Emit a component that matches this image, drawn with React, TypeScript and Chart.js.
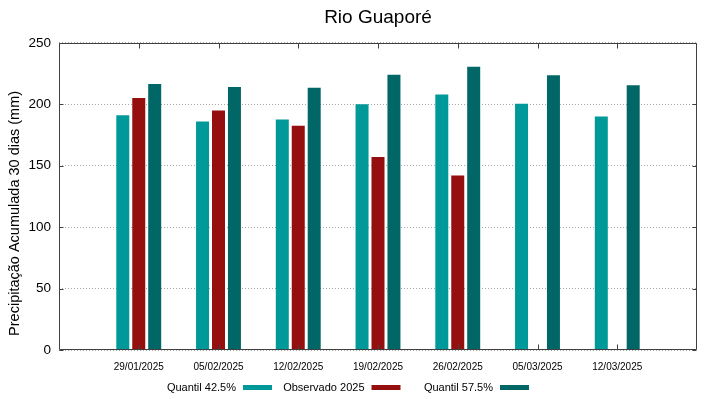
import React, { useEffect, useRef } from 'react';
import { Chart, registerables } from 'chart.js';

Chart.register(...registerables);

const TITLE = 'Rio Guaporé';
const Y_TITLE = 'Precipitação Acumulada 30 dias (mm)';
const DATES = ['29/01/2025', '05/02/2025', '12/02/2025', '19/02/2025', '26/02/2025', '05/03/2025', '12/03/2025'];
const SERIES_NAMES = ['Quantil 42.5%', 'Observado 2025', 'Quantil 57.5%'];
const Q425 = [191, 186, 187.5, 200, 208, 200.5, 190];
const OBS: (number | null)[] = [205, 195, 182.5, 157, 142, null, null];
const Q575 = [216.5, 214, 213.5, 224, 230.5, 223.5, 215.5];
const Y_MIN = 0;
const Y_MAX = 250;
const Y_STEP = 50;

const COLORS = ['#009999', '#960f0f', '#006766'];
const FRAME = '#404040';
const SANS = '"Liberation Sans", Arial, sans-serif';

const pad = (arr: (number | null)[]) => [null, ...arr, null];

const framePlugin = {
  id: 'frame',
  afterDatasetsDraw(chart: any) {
    const { ctx, chartArea, scales } = chart;
    const { left, right, top, bottom } = chartArea;
    const x = scales.x;
    const y = scales.y;
    ctx.save();
    ctx.strokeStyle = FRAME;
    ctx.lineWidth = 1;
    const l = Math.round(left) + 0.5;
    const r = Math.round(right) - 0.5;
    const t = Math.round(top) + 0.5;
    const b = Math.round(bottom) - 0.5;
    ctx.beginPath();
    ctx.rect(l, t, r - l, b - t);
    for (let i = 1; i <= DATES.length; i++) {
      const px = Math.round(x.getPixelForValue(i)) + 0.5;
      ctx.moveTo(px, b);
      ctx.lineTo(px, b - 5);
      ctx.moveTo(px, t);
      ctx.lineTo(px, t + 5);
    }
    for (let v = Y_MIN; v <= Y_MAX; v += Y_STEP) {
      const py = Math.round(y.getPixelForValue(v)) + 0.5;
      ctx.moveTo(l, py);
      ctx.lineTo(l + 4, py);
      ctx.moveTo(r, py);
      ctx.lineTo(r - 4, py);
    }
    ctx.stroke();
    ctx.restore();
  },
  afterDraw(chart: any) {
    const { ctx, chartArea } = chart;
    const { left, top, bottom } = chartArea;
    ctx.save();
    ctx.translate(15, (top + bottom) / 2 + 17);
    ctx.rotate(-Math.PI / 2);
    ctx.font = `14.5px ${SANS}`;
    ctx.fillStyle = '#000';
    ctx.textAlign = 'center';
    ctx.textBaseline = 'middle';
    ctx.fillText(Y_TITLE, 0, 0);
    ctx.restore();

    ctx.save();
    ctx.font = `11px ${SANS}`;
    ctx.textAlign = 'right';
    ctx.textBaseline = 'middle';
    const yc = 387.5;
    chart.data.datasets.forEach((ds: any, i: number) => {
      const boxRight = left + 213 + i * 128.5;
      const boxLeft = boxRight - 29;
      ctx.fillStyle = ds.backgroundColor;
      ctx.fillRect(boxLeft, yc - 2.5, 29, 5);
      ctx.fillStyle = '#000';
      ctx.fillText(ds.label, boxLeft - 7, yc);
    });
    ctx.restore();
  },
};

export default function App() {
  const ref = useRef<HTMLCanvasElement | null>(null);

  useEffect(() => {
    if (!ref.current) return;
    const chart = new Chart(ref.current, {
      type: 'bar',
      data: {
        labels: ['', ...DATES, ''],
        datasets: [
          { label: SERIES_NAMES[0], data: pad(Q425), backgroundColor: COLORS[0] },
          { label: SERIES_NAMES[1], data: pad(OBS), backgroundColor: COLORS[1] },
          { label: SERIES_NAMES[2], data: pad(Q575), backgroundColor: COLORS[2] },
        ],
      },
      options: {
        animation: false,
        responsive: false,
        maintainAspectRatio: false,
        datasets: {
          bar: { categoryPercentage: 0.6, barPercentage: 0.815 },
        },
        layout: { padding: { left: 0, right: 22, top: 0, bottom: 24 } },
        plugins: {
          legend: { display: false },
          tooltip: { enabled: false },
          title: {
            display: true,
            text: TITLE,
            fullSize: false,
            color: '#000',
            font: { family: SANS, size: 19, weight: 'normal' },
            padding: { top: 6, bottom: 14 },
          },
        },
        scales: {
          x: {
            offset: false,
            grid: { display: false, drawTicks: false },
            border: { display: false },
            ticks: {
              color: '#000',
              font: { family: SANS, size: 10 },
              padding: 11,
              maxRotation: 0,
              autoSkip: false,
            },
            afterFit: (s: any) => { s.height = 25; },
          },
          y: {
            min: Y_MIN,
            max: Y_MAX,
            grid: { color: '#a6a6a6', lineWidth: 1, drawTicks: false },
            border: { display: false, dash: [1, 2] },
            ticks: {
              stepSize: Y_STEP,
              color: '#000',
              font: { family: SANS, size: 13.5 },
              padding: 8,
            },
            afterFit: (s: any) => { s.width = 59; },
          },
        },
      },
      plugins: [framePlugin],
    });
    return () => chart.destroy();
  }, []);

  return (
    <div style={{ position: 'fixed', left: 0, top: 0, width: 719, height: 399 }}>
      <canvas ref={ref} width={719} height={399} style={{ width: 719, height: 399 }} />
    </div>
  );
}
